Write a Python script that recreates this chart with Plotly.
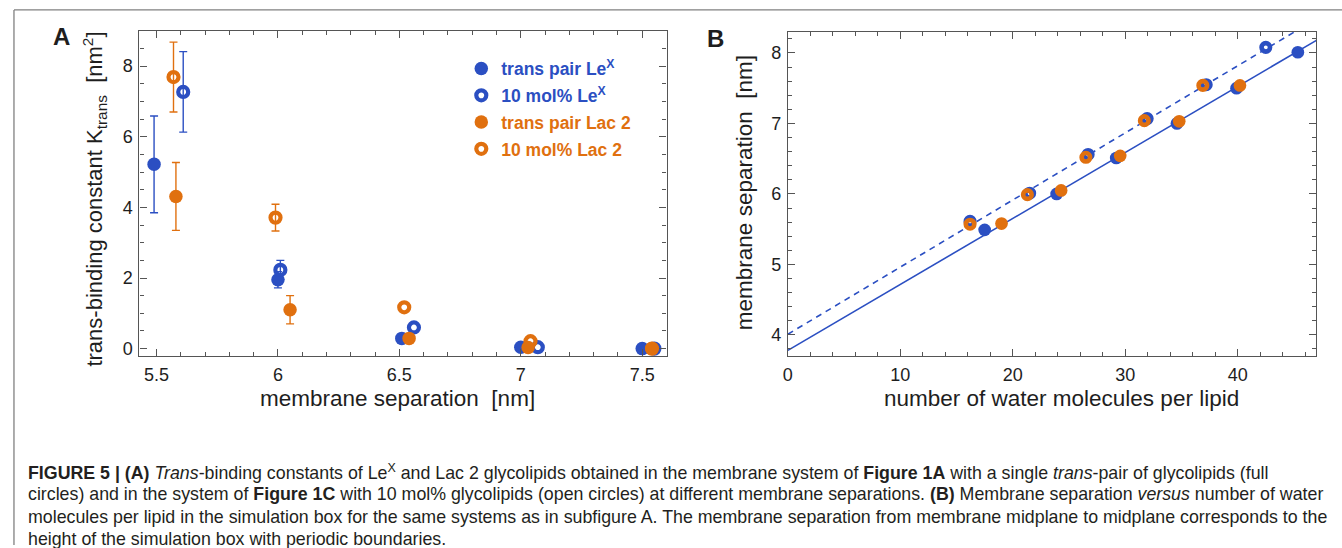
import plotly.graph_objects as go

W, H = 1342, 548
BLUE = "#2B4FC2"
ORANGE = "#E0700F"
FRAME = "#555555"
TEXT = "#1e1e1e"
FONT = "Liberation Sans, Arial, Helvetica, sans-serif"

# Membrane separation [nm] of each simulated system
sep_lex_pair = [5.49, 6.00, 6.51, 7.00, 7.50, 8.01]
sep_lex_mol = [5.61, 6.01, 6.56, 7.07, 7.55, 8.08]
sep_lac_pair = [5.58, 6.05, 6.54, 7.03, 7.54]
sep_lac_mol = [5.57, 5.99, 6.52, 7.04, 7.54]

# Panel A: trans-binding constant K_trans [nm^2] and its error
k_lex_pair = [5.22, 1.95, 0.29, 0.04, 0.00]
k_lex_pair_err = [1.37, 0.23, 0, 0, 0]
k_lex_mol = [7.27, 2.23, 0.60, 0.04, 0.00]
k_lex_mol_err = [1.14, 0.27, 0, 0, 0]
k_lac_pair = [4.31, 1.10, 0.29, 0.03, 0.00]
k_lac_pair_err = [0.96, 0.40, 0, 0, 0]
k_lac_mol = [7.69, 3.71, 1.17, 0.21, 0.00]
k_lac_mol_err = [0.99, 0.38, 0, 0, 0]

# Panel B: number of water molecules per lipid
water_lex_pair = [17.5, 23.9, 29.2, 34.6, 39.9, 45.35]
water_lex_mol = [16.2, 21.5, 26.7, 31.95, 37.2, 42.5]
water_lac_pair = [19.0, 24.3, 29.55, 34.8, 40.2]
water_lac_mol = [16.2, 21.3, 26.5, 31.7, 36.9]

# Linear fits (intercept, slope) of separation vs. water number
fit_pair = (3.78, 0.0936)
fit_mol = (4.01, 0.0952)

XA_RANGE = [5.43, 7.60]
YA_RANGE = [-0.21, 9.0]
XB_RANGE = [0, 47]
YB_RANGE = [3.70, 8.30]

fig = go.Figure()

series_a = [
    # (sep, k, err, color, filled, name, rank)
    (sep_lex_pair, k_lex_pair, k_lex_pair_err, BLUE, True, "trans pair Le<sup>X</sup>", 1),
    (sep_lex_mol, k_lex_mol, k_lex_mol_err, BLUE, False, "10 mol% Le<sup>X</sup>", 2),
    (sep_lac_mol, k_lac_mol, k_lac_mol_err, ORANGE, False, "10 mol% Lac 2", 4),
    (sep_lac_pair, k_lac_pair, k_lac_pair_err, ORANGE, True, "trans pair Lac 2", 3),
]

# error bars first so the markers sit on top
for sep, k, err, color, filled, name, rank in series_a:
    xs = sep[:len(k)]
    idx = [i for i, e in enumerate(err) if e > 0]
    fig.add_trace(go.Scatter(
        x=[xs[i] for i in idx], y=[k[i] for i in idx],
        mode="markers", marker=dict(size=1, color="rgba(0,0,0,0)"),
        error_y=dict(type="data", array=[err[i] for i in idx], color=color,
                     thickness=1.4, width=4),
        showlegend=False, hoverinfo="skip", xaxis="x", yaxis="y"))

for sep, k, err, color, filled, name, rank in series_a:
    xs = sep[:len(k)]
    if filled:
        marker = dict(symbol="circle", size=13.5, color=color, line=dict(width=0))
    else:
        marker = dict(symbol="circle-open", size=10, color=color,
                      line=dict(width=4.2, color=color))
    fig.add_trace(go.Scatter(
        x=xs, y=k, mode="markers", marker=marker,
        name=f'<b><span style="color:{color}">{name}</span></b>',
        legendrank=rank, legendgroup=str(rank),
        xaxis="x", yaxis="y"))

# Panel B fit lines
for (b0, b1), dash in [(fit_pair, "solid"), (fit_mol, "6px,5px")]:
    xs = XB_RANGE
    fig.add_trace(go.Scatter(
        x=xs, y=[b0 + b1 * x for x in xs], mode="lines",
        line=dict(color=BLUE, width=1.6, dash=dash),
        showlegend=False, hoverinfo="skip", xaxis="x2", yaxis="y2"))

series_b = [
    (water_lex_pair, sep_lex_pair, BLUE, True),
    (water_lex_mol, sep_lex_mol, BLUE, False),
    (water_lac_mol, sep_lac_mol, ORANGE, False),
    (water_lac_pair, sep_lac_pair, ORANGE, True),
]
for wat, sep, color, filled in series_b:
    if filled:
        marker = dict(symbol="circle", size=12.7, color=color, line=dict(width=0))
    else:
        marker = dict(symbol="circle-open", size=8.5, color=color,
                      line=dict(width=4.6, color=color))
    fig.add_trace(go.Scatter(
        x=wat, y=sep[:len(wat)], mode="markers", marker=marker,
        showlegend=False, xaxis="x2", yaxis="y2"))


def axis_style(**kw):
    d = dict(showline=True, linecolor=FRAME, linewidth=1.2, mirror="allticks",
             ticks="inside", ticklen=7, tickwidth=1.1, tickcolor=FRAME,
             showgrid=False, zeroline=False,
             tickfont=dict(family=FONT, size=18, color=TEXT),
             ticklabelstandoff=2,
             minor=dict(ticks="inside", ticklen=4, tickwidth=1, tickcolor=FRAME,
                        showgrid=False))
    d.update(kw)
    return d


def px(x):
    return x / W


def py(y):
    return 1 - y / H


fig.update_layout(
    width=W, height=H,
    margin=dict(l=0, r=0, t=0, b=0),
    paper_bgcolor="white", plot_bgcolor="white",
    font=dict(family=FONT, color=TEXT),
    xaxis=axis_style(domain=[px(135), px(664)], range=XA_RANGE, anchor="y",
                     dtick=0.5, tick0=5.5, minor_dtick=0.1),
    yaxis=axis_style(domain=[py(358), py(31)], range=YA_RANGE, anchor="x",
                     dtick=2, tick0=0, minor_dtick=0.5),
    xaxis2=axis_style(domain=[px(785.8), px(1316.3)], range=XB_RANGE, anchor="y2",
                      dtick=10, tick0=0, minor_dtick=2),
    yaxis2=axis_style(domain=[py(358), py(32)], range=YB_RANGE, anchor="x2",
                      dtick=1, tick0=4, minor_dtick=0.2),
    legend=dict(x=px(458), y=py(51), xanchor="left", yanchor="top",
                bgcolor="rgba(0,0,0,0)", borderwidth=0,
                font=dict(family=FONT, size=17.5), tracegroupgap=1,
                itemsizing="trace"),
    showlegend=True,
)

NB = "\u00a0"
annotations = [
    dict(text="<b>A</b>", x=px(57), y=py(37), font=dict(size=24)),
    dict(text="<b>B</b>", x=px(713), y=py(39), font=dict(size=24)),
    dict(text=f"membrane separation{NB}{NB}[nm]", x=px(394), y=py(401),
         font=dict(size=22.5)),
    dict(text=f"number of water molecules per lipid", x=px(1060), y=py(401),
         font=dict(size=22.5)),
    dict(text=f"trans-binding constant K<sub>trans</sub>{NB}{NB}[nm<sup>2</sup>]",
         x=px(90), y=py(200), textangle=-90, font=dict(size=22)),
    dict(text=f"membrane separation{NB}{NB}[nm]", x=px(743), y=py(194),
         textangle=-90, font=dict(size=22.5)),
]

caption = [
    "<b>FIGURE 5 | (A)</b> <i>Trans</i>-binding constants of Le<sup>X</sup> and Lac 2 "
    "glycolipids obtained in the membrane system of <b>Figure 1A</b> with a single "
    "<i>trans</i>-pair of glycolipids (full",
    "circles) and in the system of <b>Figure 1C</b> with 10 mol% glycolipids (open circles) "
    "at different membrane separations. <b>(B)</b> Membrane separation <i>versus</i> "
    "number of water",
    "molecules per lipid in the simulation box for the same systems as in subfigure A. "
    "The membrane separation from membrane midplane to midplane corresponds to the",
    "height of the simulation box with periodic boundaries.",
]
for i, line in enumerate(caption):
    annotations.append(dict(text=line, x=px(21), y=py(475 + 22.2 * i),
                            xanchor="left", font=dict(size=17.8, color="#231f20")))

for a in annotations:
    a.setdefault("xanchor", "center")
    a.setdefault("yanchor", "middle")
    a.update(xref="paper", yref="paper", showarrow=False)
fig.update_layout(annotations=annotations)

# page frame
fig.update_layout(shapes=[
    dict(type="line", xref="paper", yref="paper", x0=px(9), x1=1, y0=py(10), y1=py(10),
         line=dict(color="#808080", width=1.3)),
    dict(type="line", xref="paper", yref="paper", x0=px(9), x1=px(9), y0=py(10), y1=0,
         line=dict(color="#808080", width=1.3)),
])

fig.write_html("out.html")
